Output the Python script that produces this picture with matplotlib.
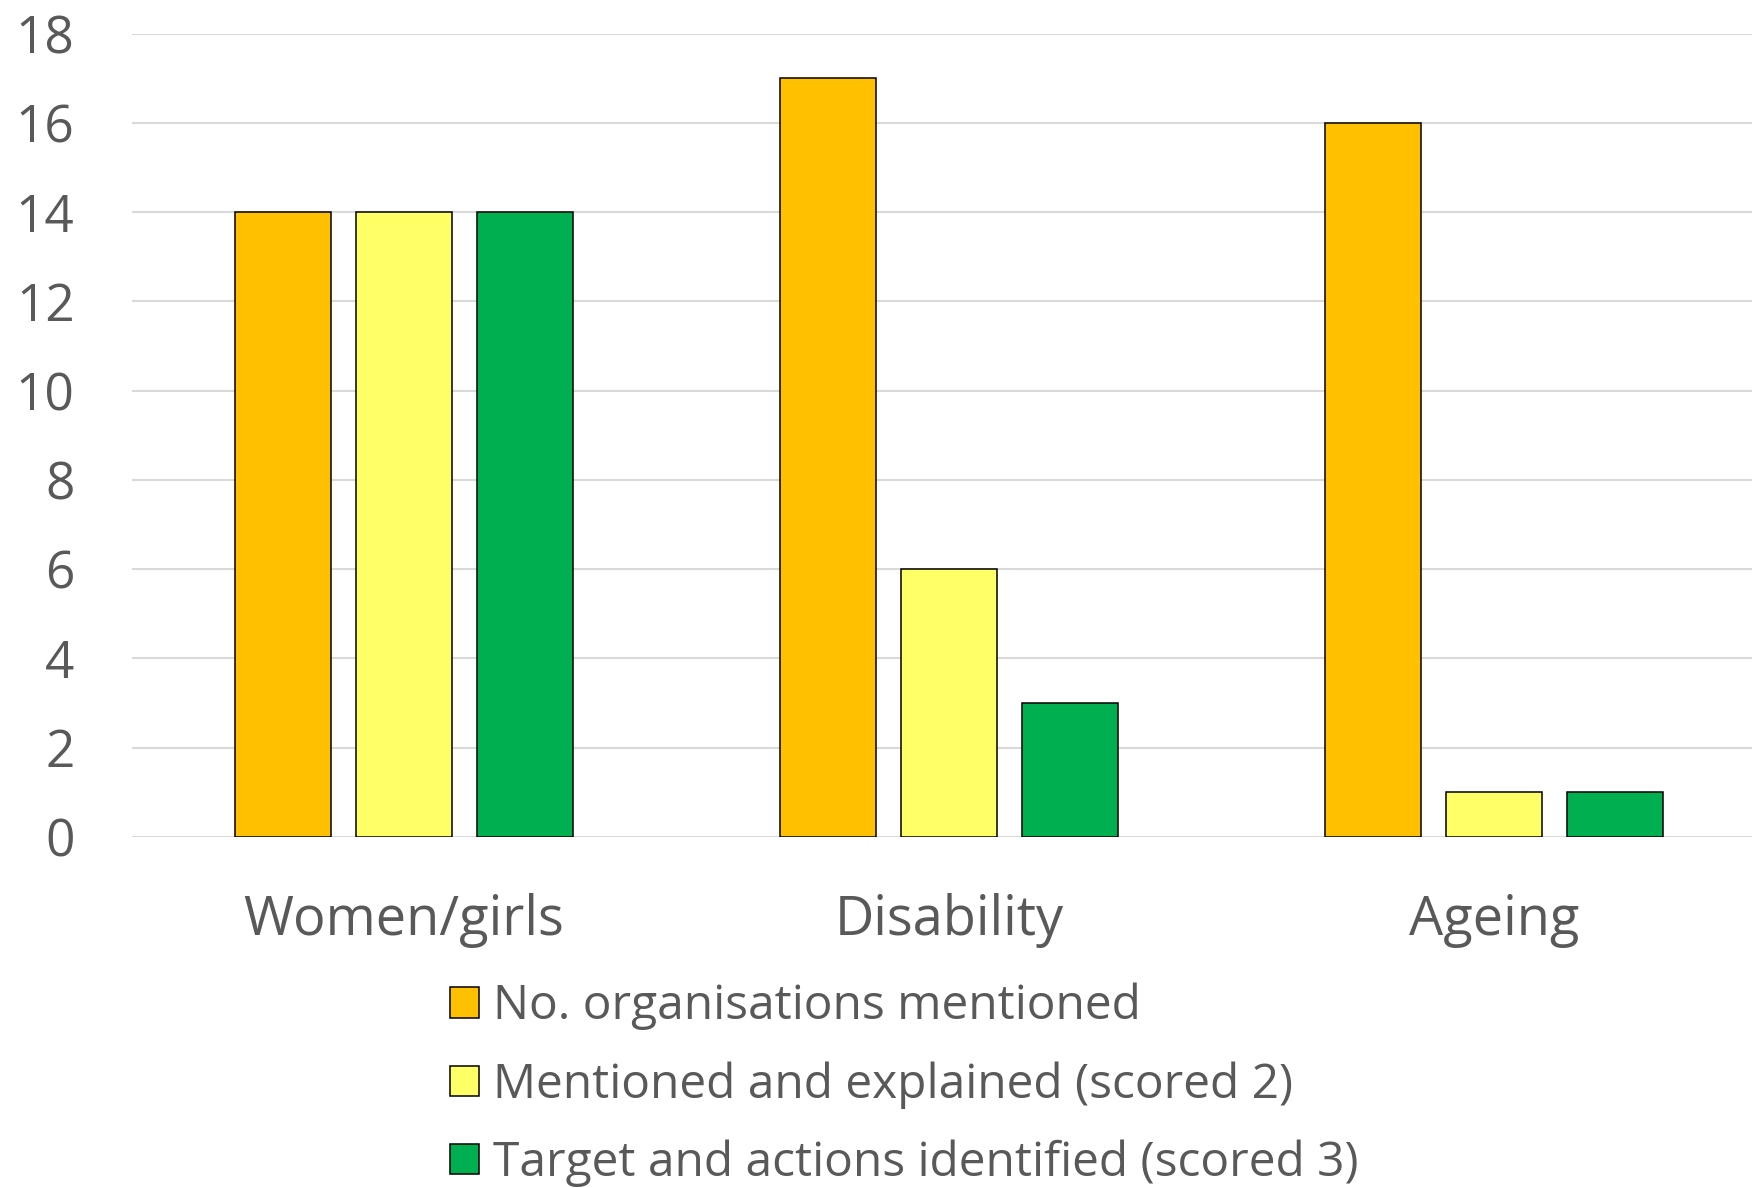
import numpy as np
import matplotlib
matplotlib.use("Agg")
import matplotlib.pyplot as plt

plt.rcParams['font.family'] = ['Open Sans', 'DejaVu Sans']

categories = ['Women/girls', 'Disability', 'Ageing']
series_names = ['No. organisations mentioned',
                'Mentioned and explained (scored 2)',
                'Target and actions identified (scored 3)']
mentioned = [14, 17, 16]
explained = [14, 6, 1]
targets = [14, 3, 1]
colors = ['#FFC000', '#FFFF66', '#00B050']
yticks = [0, 2, 4, 6, 8, 10, 12, 14, 16, 18]

text_col = '#595959'

fig = plt.figure(figsize=(17.52, 11.88), dpi=100)
ax = fig.add_axes([131.5 / 1752, 1 - 837 / 1188, (1752 - 131.5) / 1752, (837 - 33.5) / 1188])

x = np.arange(len(categories))
width = 0.175
step = 0.222
for i, (vals, name, c) in enumerate(zip([mentioned, explained, targets], series_names, colors)):
    ax.bar(x + (i - 1) * step, vals, width, color=c, edgecolor='black',
           linewidth=1.1, label=name, zorder=3)

ax.set_xlim(-0.5, 2.473)
ax.set_ylim(0, 18)
ax.set_yticks(yticks)
ax.set_xticks(x)
ax.set_xticklabels(categories)
ax.yaxis.grid(True, color='#D9D9D9', linewidth=1.5, zorder=0)
ax.set_axisbelow(True)
for s in ax.spines.values():
    s.set_visible(False)
ax.tick_params(axis='y', length=0, labelsize=37, colors=text_col, pad=41)
ax.tick_params(axis='x', length=0, labelsize=39, colors=text_col, pad=40)
for lbl in ax.get_yticklabels():
    lbl.set_horizontalalignment('right')

leg = fig.legend(loc='upper left', bbox_to_anchor=(450 / 1752, 1 - 983 / 1188),
                 frameon=False, fontsize=34.5, handlelength=0.6, handleheight=0.6,
                 handletextpad=0.3, labelspacing=0.64, borderaxespad=0, borderpad=0)
for t in leg.get_texts():
    t.set_color(text_col)

fig.savefig('out.png', dpi=100)
